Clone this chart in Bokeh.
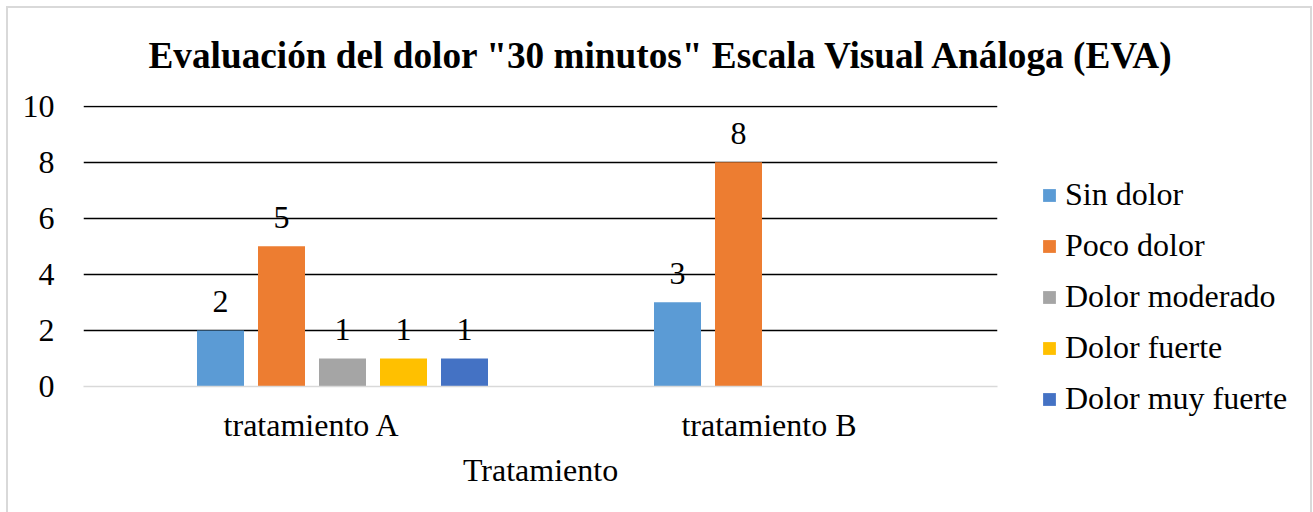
from bokeh.plotting import figure
from bokeh.models import (ColumnDataSource, FactorRange, Range1d, FixedTicker,
                          Legend, LegendItem, InlineStyleSheet)
from bokeh.transform import dodge
from bokeh.core.properties import value
from bokeh.embed import file_html
from bokeh.resources import INLINE

# Data
tratamientos = ["tratamiento A", "tratamiento B"]
sin_dolor = [2, 3]
poco_dolor = [5, 8]
dolor_moderado = [1, 0]
dolor_fuerte = [1, 0]
dolor_muy_fuerte = [1, 0]
series_names = ["Sin dolor", "Poco dolor", "Dolor moderado", "Dolor fuerte", "Dolor muy fuerte"]
series_values = [sin_dolor, poco_dolor, dolor_moderado, dolor_fuerte, dolor_muy_fuerte]
series_colors = ["#5B9BD5", "#ED7D31", "#A5A5A5", "#FFC000", "#4472C4"]
y_ticks = [0, 2, 4, 6, 8, 10]

FONT = "Liberation Serif"

p = figure(frame_width=914, frame_height=281,
           x_range=FactorRange(*tratamientos, range_padding=0),
           y_range=Range1d(0, 10.02), output_backend="svg", toolbar_location=None,
           min_border_left=83, min_border_right=0, min_border_top=105, min_border_bottom=126)
p.outline_line_color = None
p.background_fill_color = "white"
p.border_fill_color = "white"

# Light grey border around the whole chart
p.stylesheets.append(InlineStyleSheet(css="""
:host { position: relative; }
:host::after {
  content: ''; position: absolute; left: 6px; top: 6px; width: 1306px; height: 530px;
  border: 2px solid #D9D9D9; box-sizing: border-box; pointer-events: none;
}
"""))

# Title
p.title.text = 'Evaluación del dolor "30 minutos" Escala Visual Análoga (EVA)'
p.title.text_font = FONT
p.title.text_font_size = "37.25px"
p.title.text_font_style = "bold"
p.title.text_color = "black"
p.title.align = "left"
p.title.offset = 65
p.title.standoff = 60

# Axes
p.yaxis.ticker = FixedTicker(ticks=y_ticks)
p.yaxis.axis_line_color = None
p.yaxis.major_tick_line_color = None
p.yaxis.minor_tick_line_color = None
p.yaxis.major_label_standoff = 23
p.yaxis.major_label_text_font = FONT
p.yaxis.major_label_text_font_size = "32px"
p.yaxis.major_label_text_color = "black"

p.xaxis.axis_line_color = "#D9D9D9"
p.xaxis.axis_line_width = 1.5
p.xaxis.major_tick_line_color = None
p.xaxis.minor_tick_line_color = None
p.xaxis.major_label_standoff = 14
p.xaxis.major_label_text_font = FONT
p.xaxis.major_label_text_font_size = "32px"
p.xaxis.major_label_text_color = "black"
p.xaxis.axis_label = "Tratamiento"
p.xaxis.axis_label_text_font = FONT
p.xaxis.axis_label_text_font_size = "32px"
p.xaxis.axis_label_text_font_style = "normal"
p.xaxis.axis_label_text_color = "black"
p.xaxis.axis_label_standoff = 6

# Grid
p.xgrid.grid_line_color = None
p.ygrid.ticker = FixedTicker(ticks=[t for t in y_ticks if t > 0])
p.ygrid.grid_line_color = "black"
p.ygrid.grid_line_width = 1.5

# Bars: six slots per category, the first slot left empty
step = 61 / 457
bar_w = 47 / 457
items = []
for i, (name, vals, color) in enumerate(zip(series_names, series_values, series_colors)):
    src = ColumnDataSource(data=dict(cat=tratamientos, val=vals))
    off = (i - 1.5) * step
    r = p.vbar(x=dodge("cat", off, range=p.x_range), top="val", width=bar_w, source=src,
               fill_color=color, line_color=None)
    items.append(LegendItem(label=name, renderers=[r]))
    lab_cats = [c for c, v in zip(tratamientos, vals) if v > 0]
    lab_vals = [v for v in vals if v > 0]
    lsrc = ColumnDataSource(data=dict(cat=lab_cats, val=lab_vals, txt=[str(v) for v in lab_vals]))
    p.text(x=dodge("cat", off, range=p.x_range), y="val", text="txt", source=lsrc,
           text_align="center", text_baseline="middle", y_offset=-29,
           text_font=value(FONT), text_font_size="32px", text_color="black")

legend = Legend(items=items, location=(44, -31), orientation="vertical",
                label_text_font=FONT, label_text_font_size="32px", label_text_color="black",
                glyph_width=16, glyph_height=16, label_standoff=8, label_height=37,
                label_width=292, spacing=14,
                padding=0, margin=0, border_line_color=None, background_fill_alpha=0)
p.add_layout(legend, "right")

open("out.html", "w").write(file_html(p, INLINE))
